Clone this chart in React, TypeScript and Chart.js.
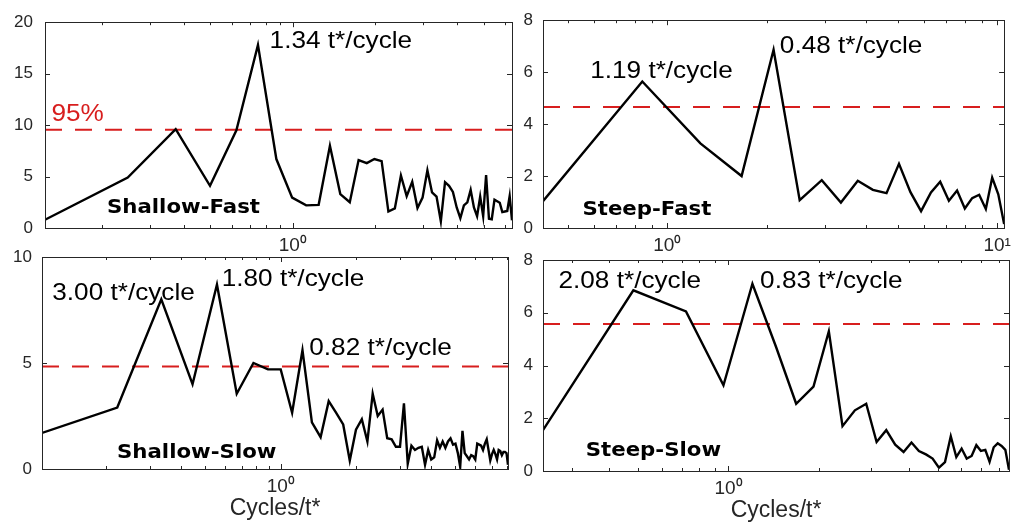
import React, { useEffect, useRef } from "react";
import { Chart, registerables } from "chart.js";

Chart.register(...registerables);

const CANVAS_W = 1017;
const CANVAS_H = 522;
const Y_AXIS_BOX = 40;
const X_AXIS_BOX = 30;

// ---------------- data ----------------
// Shallow-Fast
const shallowFastFreq = [
  0.124, 0.249, 0.373, 0.498, 0.622, 0.746, 0.871, 0.995, 1.12, 1.244, 1.368, 1.493, 1.617,
  1.742, 1.866, 1.99, 2.115, 2.239, 2.364, 2.488, 2.612, 2.737, 2.861, 2.986, 3.11, 3.234,
  3.359, 3.483, 3.608, 3.732, 3.856, 3.981, 4.105, 4.23, 4.354, 4.478, 4.603, 4.727, 4.852,
  4.976, 5.1, 5.225, 5.349, 5.474, 5.598, 5.722, 5.847, 5.971, 6.096, 6.22, 6.344,
];
const shallowFastPower = [
  0.8, 4.9, 9.6, 4.1, 9.5, 17.8, 6.7, 2.95, 2.2, 2.25, 8.0, 3.3, 2.5, 6.6, 6.3, 6.7, 6.5,
  1.6, 1.9, 5.1, 3.1, 4.5, 1.95, 2.95, 5.6, 3.45, 3.05, 0.65, 4.45, 4.1, 3.5, 2.0, 0.95,
  2.2, 2.5, 3.7, 2.0, 1.15, 3.05, 1.15, 5.15, 0.9, 0.85, 2.75, 2.6, 2.45, 1.55, 1.6, 1.65,
  3.1, 0.75,
];
const shallowFastThreshold = 9.56;

// Steep-Fast
const steepFastFreq = [
  0.42, 0.84, 1.26, 1.68, 2.1, 2.52, 2.94, 3.36, 3.78, 4.2, 4.62, 5.04, 5.46, 5.88, 6.3,
  6.72, 7.14, 7.56, 7.98, 8.4, 8.82, 9.24, 9.66, 10.08, 10.5,
];
const steepFastPower = [
  1.03, 5.64, 3.26, 2.0, 6.86, 1.07, 1.84, 0.98, 1.82, 1.47, 1.34, 2.47, 1.38, 0.65, 1.37,
  1.78, 1.05, 1.44, 0.75, 1.15, 1.28, 0.73, 1.94, 1.3, 0.15,
];
const steepFastThreshold = 4.66;

// Shallow-Slow
const shallowSlowFreq = [
  0.111, 0.222, 0.333, 0.444, 0.556, 0.667, 0.778, 0.889, 1.0, 1.111, 1.222, 1.333, 1.444,
  1.556, 1.667, 1.778, 1.889, 2.0, 2.111, 2.222, 2.333, 2.444, 2.556, 2.667, 2.778, 2.889,
  3.0, 3.111, 3.222, 3.333, 3.444, 3.556, 3.667, 3.778, 3.889, 4.0, 4.111, 4.222, 4.333,
  4.444, 4.556, 4.667, 4.778, 4.889, 5.0, 5.111, 5.222, 5.333, 5.444, 5.556, 5.667, 5.778,
  5.889, 6.0, 6.111, 6.222, 6.333, 6.444, 6.556, 6.667, 6.778, 6.889, 7.0, 7.111, 7.222,
  7.333, 7.444, 7.556, 7.667, 7.778, 7.889, 8.0, 8.111,
];
const shallowSlowPower = [
  1.7, 2.9, 8.0, 4.0, 8.7, 3.55, 5.0, 4.7, 4.7, 2.65, 5.6, 2.2, 1.5, 3.2, 2.65, 2.1, 0.4,
  1.85, 2.35, 1.3, 3.55, 2.5, 2.8, 1.45, 1.4, 1.05, 1.05, 3.1, 0.25, 1.1, 0.9, 1.0, 1.05,
  0.2, 0.9, 0.45, 0.55, 1.35, 1.0, 1.3, 1.0, 1.3, 1.45, 1.15, 1.2, 0.75, 0.1, 1.8, 0.75,
  0.6, 0.45, 0.65, 0.6, 0.45, 1.2, 1.15, 1.1, 0.9, 1.2, 1.4, 0.9, 0.4, 0.7, 0.9, 0.7,
  0.45, 0.9, 0.85, 0.65, 0.8, 0.8, 0.75, 0.2,
];
const shallowSlowThreshold = 4.83;

// Steep-Slow
const steepSlowFreq = [
  0.24, 0.481, 0.721, 0.962, 1.202, 1.442, 1.683, 1.923, 2.164, 2.404, 2.644, 2.885, 3.125,
  3.366, 3.606, 3.846, 4.087, 4.327, 4.568, 4.808, 5.048, 5.289, 5.529, 5.77, 6.01, 6.25,
  6.491, 6.731, 6.972, 7.212, 7.452, 7.693, 7.933, 8.174, 8.414, 8.654,
];
const steepSlowPower = [
  1.55, 6.85, 6.05, 3.25, 7.1, 4.7, 2.55, 3.2, 5.3, 1.7, 2.3, 2.55, 1.1, 1.55, 1.0, 0.72,
  1.08, 0.76, 0.63, 0.47, 0.13, 0.34, 1.32, 0.53, 0.85, 0.47, 0.57, 0.98, 0.76, 0.8, 0.35,
  0.9, 1.05, 0.95, 0.8, 0.05,
];
const steepSlowThreshold = 5.57;

// tick values / labels
const LOG_TICKS = [0.1, 0.2, 0.3, 0.4, 0.5, 0.6, 0.7, 0.8, 0.9, 1, 2, 3, 4, 5, 6, 7, 8, 9, 10];
const LOG_TICK_LABELS: Record<string, string> = { "1": "10\u2070", "10": "10\u00B9" };
const X_TITLE = "Cycles/t*";

// ---------------- styling ----------------
const RED = "#d81e1e";
const AXIS_COLOR = "#262626";
const PEAK_FONT = '24px "Liberation Sans", Arial, sans-serif';
const NAME_FONT = 'bold 19px "DejaVu Sans", Verdana, sans-serif';
const TITLE_FONT = '23px "Liberation Sans", Arial, sans-serif';

type Note = { text: string; x: number; y: number; style: "peak" | "name" | "pct" };

type Panel = {
  freq: number[];
  power: number[];
  threshold: number;
  yMax: number;
  yStep: number;
  notes: Note[];
  area: { left: number; top: number; right: number; bottom: number };
  yLabelGap: number;
  xTitle: string | null;
};

const panels: Panel[] = [
  {
    freq: shallowFastFreq,
    power: shallowFastPower,
    threshold: shallowFastThreshold,
    yMax: 20,
    yStep: 5,
    notes: [
      { text: "1.34 t*/cycle", x: 0.823, y: 17.45, style: "peak" },
      { text: "95%", x: 0.131, y: 10.38, style: "pct" },
      { text: "Shallow-Fast", x: 0.209, y: 1.42, style: "name" },
    ],
    area: { left: 45, top: 16, right: 512, bottom: 228 },
    yLabelGap: 12,
    xTitle: null,
  },
  {
    freq: steepFastFreq,
    power: steepFastPower,
    threshold: steepFastThreshold,
    yMax: 8,
    yStep: 2,
    notes: [
      { text: "1.19 t*/cycle", x: 0.584, y: 5.79, style: "peak" },
      { text: "0.48 t*/cycle", x: 2.194, y: 6.72, style: "peak" },
      { text: "Steep-Fast", x: 0.553, y: 0.49, style: "name" },
    ],
    area: { left: 543, top: 16, right: 1009, bottom: 228 },
    yLabelGap: 10,
    xTitle: null,
  },
  {
    freq: shallowSlowFreq,
    power: shallowSlowPower,
    threshold: shallowSlowThreshold,
    yMax: 10,
    yStep: 5,
    notes: [
      { text: "3.00 t*/cycle", x: 0.122, y: 7.96, style: "peak" },
      { text: "1.80 t*/cycle", x: 0.581, y: 8.62, style: "peak" },
      { text: "0.82 t*/cycle", x: 1.301, y: 5.38, style: "peak" },
      { text: "Shallow-Slow", x: 0.2215, y: 0.53, style: "name" },
    ],
    area: { left: 42, top: 257, right: 508, bottom: 469 },
    yLabelGap: 10,
    xTitle: X_TITLE,
  },
  {
    freq: steepSlowFreq,
    power: steepSlowPower,
    threshold: steepSlowThreshold,
    yMax: 8,
    yStep: 2,
    notes: [
      { text: "2.08 t*/cycle", x: 0.2704, y: 6.94, style: "peak" },
      { text: "0.83 t*/cycle", x: 1.275, y: 6.94, style: "peak" },
      { text: "Steep-Slow", x: 0.3334, y: 0.56, style: "name" },
    ],
    area: { left: 543, top: 260, right: 1009, bottom: 471 },
    yLabelGap: 10,
    xTitle: X_TITLE,
  },
];

function drawStretched(
  ctx: CanvasRenderingContext2D,
  text: string,
  x: number,
  y: number,
  font: string,
  color: string,
  sx: number
) {
  ctx.save();
  ctx.font = font;
  ctx.fillStyle = color;
  ctx.textAlign = "left";
  ctx.textBaseline = "alphabetic";
  ctx.translate(x, y);
  ctx.scale(sx, 1);
  ctx.fillText(text, 0, 0);
  ctx.restore();
}

const framePlugin = {
  id: "frame",
  afterDraw(chart: any, _args: any, opts: any) {
    const { ctx, chartArea: a, scales } = chart;
    const xs = scales.x;
    const ys = scales.y;
    ctx.save();
    ctx.strokeStyle = AXIS_COLOR;
    ctx.lineWidth = 1;
    ctx.beginPath();
    xs.ticks.forEach((t: any) => {
      const px = Math.round(xs.getPixelForValue(t.value)) + 0.5;
      const major = !!LOG_TICK_LABELS[String(t.value)];
      const len = major ? 5 : 3;
      ctx.moveTo(px, a.bottom);
      ctx.lineTo(px, a.bottom - len);
      ctx.moveTo(px, a.top);
      ctx.lineTo(px, a.top + len);
    });
    ys.ticks.forEach((t: any) => {
      const py = Math.round(ys.getPixelForValue(t.value)) + 0.5;
      ctx.moveTo(a.left, py);
      ctx.lineTo(a.left + 5, py);
      ctx.moveTo(a.right, py);
      ctx.lineTo(a.right - 5, py);
    });
    ctx.stroke();
    ctx.strokeRect(
      Math.round(a.left) + 0.5,
      Math.round(a.top) + 0.5,
      Math.round(a.right - a.left),
      Math.round(a.bottom - a.top)
    );
    ctx.restore();

    const notes: Note[] = opts.notes || [];
    notes.forEach((n) => {
      const px = xs.getPixelForValue(n.x);
      const py = ys.getPixelForValue(n.y);
      if (n.style === "name") drawStretched(ctx, n.text, px, py, NAME_FONT, "#000", 1.12);
      else if (n.style === "pct") drawStretched(ctx, n.text, px, py, PEAK_FONT, RED, 1.09);
      else drawStretched(ctx, n.text, px, py, PEAK_FONT, "#000", 1.09);
    });

    if (opts.xTitle) {
      ctx.save();
      ctx.font = TITLE_FONT;
      ctx.fillStyle = AXIS_COLOR;
      ctx.textAlign = "center";
      ctx.textBaseline = "alphabetic";
      ctx.fillText(opts.xTitle, (a.left + a.right) / 2, a.bottom + 46);
      ctx.restore();
    }
  },
};

function PanelChart({ panel }: { panel: Panel }) {
  const ref = useRef<HTMLCanvasElement | null>(null);
  useEffect(() => {
    if (!ref.current) return;
    const xMin = panel.freq[0];
    const xMax = panel.freq[panel.freq.length - 1];
    const chart = new Chart(ref.current, {
      type: "line",
      data: {
        datasets: [
          {
            label: "spectrum",
            data: panel.freq.map((f, i) => ({ x: f, y: panel.power[i] })),
            borderColor: "#000",
            borderWidth: 2.4,
            pointRadius: 0,
            tension: 0,
            fill: false,
          },
          {
            label: "95%",
            data: [
              { x: xMin, y: panel.threshold },
              { x: xMax, y: panel.threshold },
            ],
            borderColor: RED,
            borderWidth: 2,
            borderDash: [17, 13],
            pointRadius: 0,
            fill: false,
          },
        ],
      },
      options: {
        animation: false,
        responsive: false,
        devicePixelRatio: 1,
        events: [],
        layout: {
          padding: {
            left: panel.area.left - Y_AXIS_BOX,
            top: panel.area.top,
            right: CANVAS_W - panel.area.right,
            bottom: CANVAS_H - panel.area.bottom - X_AXIS_BOX,
          },
        },
        plugins: {
          legend: { display: false },
          tooltip: { enabled: false },
          frame: { notes: panel.notes, xTitle: panel.xTitle },
        } as any,
        scales: {
          x: {
            type: "logarithmic",
            position: "bottom",
            min: xMin,
            max: xMax,
            grid: { display: false, drawTicks: false },
            border: { display: false },
            afterFit: (s: any) => {
              s.height = X_AXIS_BOX;
            },
            afterBuildTicks: (s: any) => {
              s.ticks = LOG_TICKS.filter((v) => v >= xMin && v <= xMax).map((v) => ({ value: v }));
            },
            ticks: {
              autoSkip: false,
              maxRotation: 0,
              minRotation: 0,
              padding: 6,
              color: AXIS_COLOR,
              font: { family: '"Liberation Sans", Arial, sans-serif', size: 19 },
              callback: (v: any) => LOG_TICK_LABELS[String(v)] || "",
            },
          },
          y: {
            type: "linear",
            position: "left",
            min: 0,
            max: panel.yMax,
            grid: { display: false, drawTicks: false },
            border: { display: false },
            afterFit: (s: any) => {
              s.width = Y_AXIS_BOX;
            },
            ticks: {
              stepSize: panel.yStep,
              padding: panel.yLabelGap,
              color: AXIS_COLOR,
              font: { family: '"Liberation Sans", Arial, sans-serif', size: 17 },
            },
          },
        },
      },
      plugins: [framePlugin],
    } as any);
    return () => chart.destroy();
  }, [panel]);
  return (
    <canvas
      ref={ref}
      width={CANVAS_W}
      height={CANVAS_H}
      style={{ position: "absolute", left: 0, top: 0, width: CANVAS_W, height: CANVAS_H }}
    />
  );
}

export default function App() {
  return (
    <div
      style={{
        position: "fixed",
        left: 0,
        top: 0,
        width: CANVAS_W,
        height: CANVAS_H,
        background: "#fff",
        overflow: "hidden",
      }}
    >
      {panels.map((p, i) => (
        <PanelChart key={i} panel={p} />
      ))}
    </div>
  );
}
